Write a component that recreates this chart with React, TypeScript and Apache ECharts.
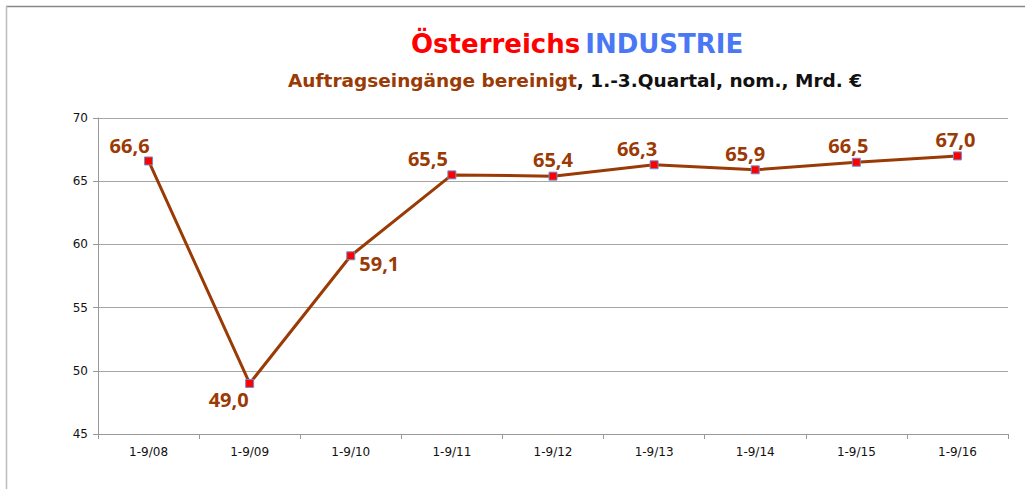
import React, { useEffect, useRef } from "react";
import * as echarts from "echarts";

const categories = ["1-9/08", "1-9/09", "1-9/10", "1-9/11", "1-9/12", "1-9/13", "1-9/14", "1-9/15", "1-9/16"];
const values = [66.6, 49.0, 59.1, 65.5, 65.4, 66.3, 65.9, 66.5, 67.0];
const labelPositions = ["top", "bottom", "right", "top", "top", "top", "top", "top", "top"];
const labelOffsets = [[-19, 3], [-21, -2], [0, 8], [-24, 2], [0, 2], [-17, 2], [-10, 2], [-8, 2], [-2, 2]];

const BROWN = "#9a3a05";

export default function App() {
  const ref = useRef<HTMLDivElement>(null);
  useEffect(() => {
    const chart = echarts.init(ref.current!, null, { renderer: "svg" });
    const font = "Tahoma, 'DejaVu Sans', Verdana, sans-serif";
    const headFont = "'DejaVu Sans', sans-serif";
    chart.setOption({
      animation: false,
      backgroundColor: "#ffffff",
      title: [
        {
          text: "{a|Österreichs} {b|INDUSTRIE}",
          left: 406,
          top: 26,
          textStyle: {
            rich: {
              a: { color: "#ff0000", fontSize: 26, fontWeight: "bold", fontFamily: headFont },
              b: { color: "#4a78f5", fontSize: 26, fontWeight: "bold", fontFamily: headFont },
            },
          },
        },
        {
          text: "{a|Auftragseingänge bereinigt}{b|, 1.-3.Quartal, nom., Mrd. €}",
          left: 283,
          top: 66,
          textStyle: {
            rich: {
              a: { color: BROWN, fontSize: 18.5, fontWeight: "bold", fontFamily: headFont },
              b: { color: "#111111", fontSize: 18.5, fontWeight: "bold", fontFamily: headFont },
            },
          },
        },
      ],
      graphic: [
        { type: "line", shape: { x1: 6, y1: 6.5, x2: 1025, y2: 6.5 }, style: { stroke: "#888888", lineWidth: 1.5 } },
        { type: "line", shape: { x1: 6.5, y1: 6, x2: 6.5, y2: 489 }, style: { stroke: "#bbbbbb", lineWidth: 1.5 } },
      ],
      grid: { left: 98, right: 17, top: 118, bottom: 55, containLabel: false },
      xAxis: {
        type: "category",
        data: categories,
        boundaryGap: true,
        axisLine: { show: true, lineStyle: { color: "#999999", width: 1 } },
        axisTick: { show: true, alignWithLabel: false, length: 5, lineStyle: { color: "#999999" } },
        axisLabel: { color: "#111111", fontSize: 12, fontFamily: font, margin: 12 },
        splitLine: { show: false },
      },
      yAxis: {
        type: "value",
        min: 45,
        max: 70,
        interval: 5,
        axisLine: { show: true, lineStyle: { color: "#999999", width: 1 } },
        axisTick: { show: true, length: 5, lineStyle: { color: "#999999" } },
        axisLabel: { color: "#111111", fontSize: 12, fontFamily: font, margin: 10 },
        splitLine: { show: true, lineStyle: { color: "#a6a6a6", width: 1 } },
      },
      series: [
        {
          type: "line",
          data: values.map((v, i) => ({
            value: v,
            label: {
              position: labelPositions[i],
              offset: labelOffsets[i],
            },
          })),
          lineStyle: { color: BROWN, width: 3 },
          itemStyle: { color: "#ff0000", borderColor: "#6d8fd0", borderWidth: 1 },
          symbol: "rect",
          symbolSize: 8,
          showAllSymbol: true,
          label: {
            show: true,
            color: BROWN,
            fontSize: 20,
            fontWeight: "bold",
            fontFamily: "'Open Sans', sans-serif",
            distance: 4,
            formatter: (p: any) => p.value.toFixed(1).replace(".", ","),
          },
        },
      ],
    });
    return () => chart.dispose();
  }, []);
  return (
    <div
      ref={ref}
      style={{ position: "fixed", left: 0, top: 0, width: 1025, height: 489 }}
    />
  );
}
